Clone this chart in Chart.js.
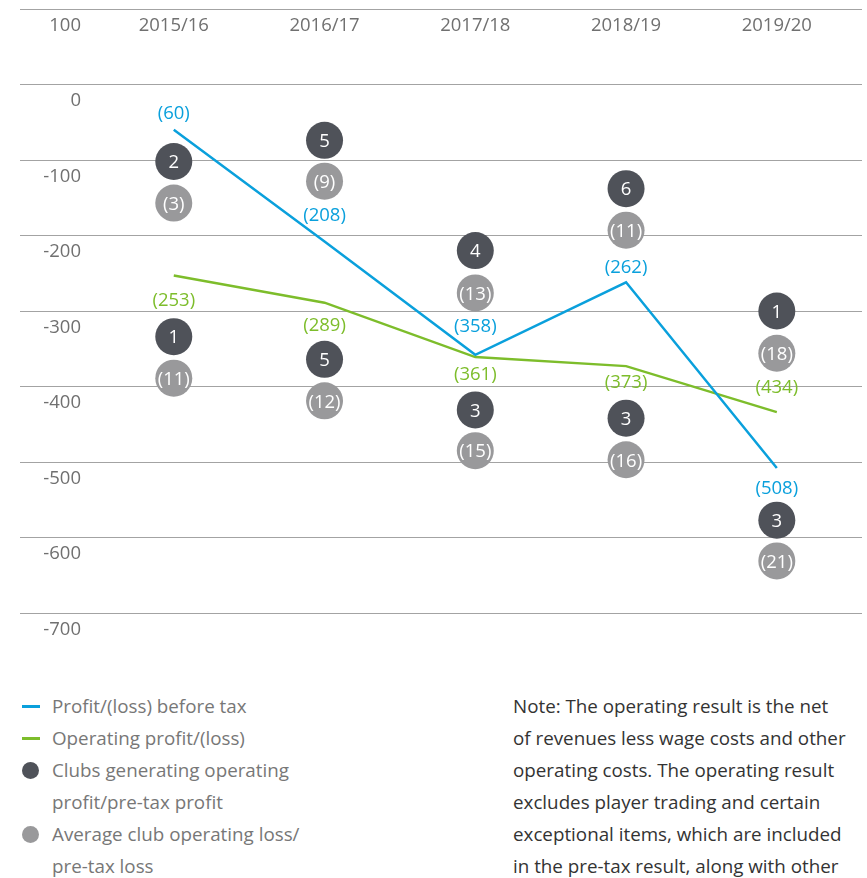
<!DOCTYPE html>
<html>
<head>
<meta charset="utf-8">
<script src="https://cdn.jsdelivr.net/npm/chart.js@4.4.1/dist/chart.umd.min.js"></script>
<style>
  body { margin: 0; background: #fff; font-family: 'Open Sans', sans-serif; }
  #wrap { position: relative; width: 867px; height: 878px; overflow: hidden; }
  #chart { position: absolute; left: 0; top: 0; }
  .legend { position: absolute; left: 0; top: 690px; font-size: 18.8px; line-height: 32px; color: #777; }
  .legend div { position: relative; padding-left: 52px; }
  .legend .ln { position: absolute; left: 22px; top: 15px; width: 18px; height: 3px; }
  .legend .dot { position: absolute; left: 22px; top: 8px; width: 17px; height: 17px; border-radius: 50%; }
  .note { position: absolute; left: 513px; top: 690px; font-size: 18.8px; line-height: 32px; color: #333; white-space: nowrap; }
</style>
</head>
<body>
<div id="wrap">
  <canvas id="chart" width="867" height="640"></canvas>
  <div class="legend">
    <div><span class="ln" style="background:#0aa0dc"></span>Profit/(loss) before tax</div>
    <div><span class="ln" style="background:#7dbd2b"></span>Operating profit/(loss)</div>
    <div><span class="dot" style="background:#4f5259"></span>Clubs generating operating<br>profit/pre-tax profit</div>
    <div><span class="dot" style="background:#99999b"></span>Average club operating loss/<br>pre-tax loss</div>
  </div>
  <div class="note">Note: The operating result is the net<br>of revenues less wage costs and other<br>operating costs. The operating result<br>excludes player trading and certain<br>exceptional items, which are included<br>in the pre-tax result, along with other</div>
</div>
<script>
// seasons along the top
const seasons = ['2015/16', '2016/17', '2017/18', '2018/19', '2019/20'];

// £m, losses shown in brackets
const preTax = [-60, -208, -358, -262, -508];
const operating = [-253, -289, -361, -373, -434];

// number of clubs in profit and average club loss
const preTaxClubs = [2, 5, 4, 6, 3];
const preTaxAvgLoss = [3, 9, 13, 11, 21];
const opClubs = [1, 5, 3, 3, 1];
const opAvgLoss = [11, 12, 15, 16, 18];

// where the bubbles sit on the value axis
const preTaxClubsLevel = [-102, -74, -220, -138, -577];
const preTaxLossLevel = [-157, -128, -276, -193, -631];
const opClubsLevel = [-334, -364, -431, -442, -300];
const opLossLevel = [-389, -419, -485, -497, -356];

const yTicks = [100, 0, -100, -200, -300, -400, -500, -600, -700];

const BLUE = '#0aa0dc';
const GREEN = '#7dbd2b';
const DARK = '#4f5259';
const GREY = '#99999b';

const paren = v => '(' + Math.abs(v) + ')';
const pts = arr => arr.map((v, i) => ({ x: i, y: v }));

// text offsets (px) of the value labels from their points
const preTaxOffsets = [-18, -27, -30, -16, 19];
const opOffsets = [24, 22, 16, 15, -26];

const textPlugin = {
    id: 'texts',
    afterDraw(chart) {
        const { ctx, scales: { x, y } } = chart;
        ctx.save();
        ctx.font = '18.5px "Open Sans"';
        ctx.textBaseline = 'middle';
        ctx.fillStyle = '#707070';
        // value axis labels sit just under each grid line
        ctx.textAlign = 'right';
        yTicks.forEach(t => ctx.fillText(String(t), 81, y.getPixelForValue(t) + 16.5));
        ctx.textAlign = 'center';
        seasons.forEach((s, i) => ctx.fillText(s, x.getPixelForValue(i), y.getPixelForValue(100) + 16.5));

        chart.data.datasets.forEach((ds, di) => {
            if (!ds.texts) return;
            const meta = chart.getDatasetMeta(di);
            ctx.fillStyle = ds.textColor;
            meta.data.forEach((pt, i) => {
                const off = ds.textOffsets ? ds.textOffsets[i] : 0;
                ctx.fillText(ds.texts[i], pt.x, pt.y + off + 1.5);
            });
        });
        ctx.restore();
    }
};

const bubble = (levels, texts, color) => ({
    type: 'scatter',
    data: pts(levels),
    backgroundColor: color,
    borderWidth: 0,
    pointRadius: 18.5,
    pointHoverRadius: 18.5,
    texts: texts,
    textColor: '#fff'
});

const ctx = document.getElementById('chart').getContext('2d');
new Chart(ctx, {
    type: 'line',
    data: {
        datasets: [
            bubble(preTaxClubsLevel, preTaxClubs.map(String), DARK),
            bubble(preTaxLossLevel, preTaxAvgLoss.map(v => '(' + v + ')'), GREY),
            bubble(opClubsLevel, opClubs.map(String), DARK),
            bubble(opLossLevel, opAvgLoss.map(v => '(' + v + ')'), GREY),
            {
                label: 'Profit/(loss) before tax',
                data: pts(preTax),
                borderColor: BLUE,
                borderWidth: 2.5,
                pointRadius: 0,
                fill: false,
                tension: 0,
                texts: preTax.map(paren),
                textColor: BLUE,
                textOffsets: preTaxOffsets
            },
            {
                label: 'Operating profit/(loss)',
                data: pts(operating),
                borderColor: GREEN,
                borderWidth: 2.5,
                pointRadius: 0,
                fill: false,
                tension: 0,
                texts: operating.map(paren),
                textColor: GREEN,
                textOffsets: opOffsets
            }
        ]
    },
    options: {
        responsive: false,
        animation: false,
        layout: { autoPadding: false, padding: { left: 20, right: 5, top: 9, bottom: 27 } },
        plugins: {
            legend: { display: false },
            tooltip: { enabled: false }
        },
        scales: {
            x: {
                type: 'linear',
                min: -1.02,
                max: 4.565,
                display: false
            },
            y: {
                min: -700,
                max: 100,
                ticks: { display: false, stepSize: 100 },
                border: { display: false },
                grid: { color: '#a3a3a3', lineWidth: 1, drawTicks: false }
            }
        }
    },
    plugins: [textPlugin]
});
</script>
</body>
</html>
